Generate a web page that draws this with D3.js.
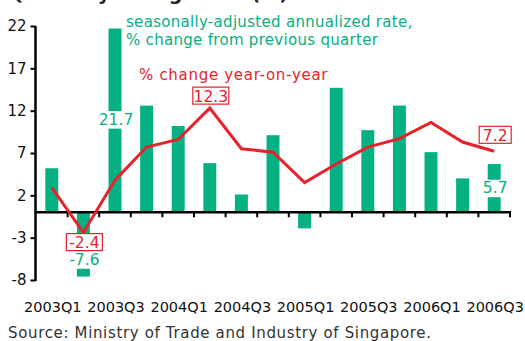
<!DOCTYPE html>
<html>
<head>
<meta charset="utf-8">
<script src="https://cdn.jsdelivr.net/npm/d3@7"></script>
<style>
  html, body { margin: 0; padding: 0; background: #fff; }
  svg { display: block; font-family: "DejaVu Sans", Verdana, sans-serif; }
</style>
</head>
<body>
<svg id="chart" width="525" height="341"></svg>
<script>
// Singapore GDP growth by quarter
const quarters = ["2003Q1","2003Q2","2003Q3","2003Q4","2004Q1","2004Q2","2004Q3","2004Q4",
                  "2005Q1","2005Q2","2005Q3","2005Q4","2006Q1","2006Q2","2006Q3"];
// seasonally-adjusted annualized rate, % change from previous quarter
const qoqSaar = [5.2, -7.6, 21.7, 12.6, 10.2, 5.8, 2.1, 9.1, -1.9, 14.7, 9.7, 12.6, 7.1, 4.0, 5.7];
// % change year-on-year
const yoy = [2.9, -2.4, 3.8, 7.7, 8.6, 12.3, 7.5, 7.1, 3.5, 5.7, 7.7, 8.7, 10.6, 8.3, 7.2];
const yTicks = [-8, -3, 2, 7, 12, 17, 22];
const xTickLabels = ["2003Q1","2003Q3","2004Q1","2004Q3","2005Q1","2005Q3","2006Q1","2006Q3"];

// value labels: green labels sit on a white patch over the bar at the given level
const barLabels = [
  { q: "2003Q2", at: -5.55 },
  { q: "2003Q3", at: 11.0 },
  { q: "2006Q3", at: 2.9 }
];
// boxed labels on the year-on-year line ("above" or "below" the point)
const lineLabels = [
  { q: "2003Q2", side: "below", gap: 1 },
  { q: "2004Q2", side: "above", gap: 4 },
  { q: "2006Q3", side: "above", gap: 8 }
];

const green = "#05b083";
const red = "#e8212b";
const svg = d3.select("#chart");

// plain hyphen for negatives
const fmt1 = v => d3.format(".1f")(v).replace("\u2212", "-");
const fmt0 = v => d3.format("d")(v).replace("\u2212", "-");

const x = d3.scaleBand().domain(quarters).range([36, 510]).paddingInner(0.59).paddingOuter(0.295);
const xTick = d3.scaleBand().domain(quarters).range([36, 510]);
const y = d3.scaleLinear().domain([-8, 22]).range([280, 26]);

// title, running off the top edge
svg.append("text")
  .attr("x", 8).attr("y", 0)
  .attr("font-size", 19).attr("font-weight", "bold").attr("fill", "#222")
  .text("Quarterly GDP growth (%)");

// bars
svg.append("g").selectAll("rect").data(quarters).join("rect")
  .attr("x", d => x(d))
  .attr("width", x.bandwidth())
  .attr("y", (d, i) => y(Math.max(0, qoqSaar[i])))
  .attr("height", (d, i) => Math.abs(y(qoqSaar[i]) - y(0)))
  .attr("fill", green);

// green value labels with white backing
barLabels.forEach(l => {
  const i = quarters.indexOf(l.q);
  const cx = x(l.q) + x.bandwidth() / 2 + 1;
  const cy = y(l.at);
  svg.append("rect")
    .attr("x", cx - 19).attr("y", cy - 8)
    .attr("width", 38).attr("height", 17.5)
    .attr("fill", "#fff");
  svg.append("text")
    .attr("x", cx).attr("y", cy + 5.5)
    .attr("text-anchor", "middle")
    .attr("font-size", 15.5).attr("fill", green)
    .text(fmt1(qoqSaar[i]));
});

// y axis
const yAxis = d3.axisLeft(y).tickValues(yTicks).tickSize(5).tickPadding(4).tickFormat(fmt0);
const gy = svg.append("g").attr("transform", "translate(35.5,0)").call(yAxis);
gy.select(".domain").attr("stroke", "#000").attr("stroke-width", 2.5).attr("d", `M0,${y(22)}V${y(-8) + 1}`);
gy.selectAll(".tick line").attr("stroke", "#000").attr("stroke-width", 2);
gy.selectAll(".tick text").attr("font-size", 15).attr("fill", "#111").attr("font-family", "DejaVu Sans, Verdana, sans-serif");

// x axis at zero with boundary ticks
const gx = svg.append("g");
gx.append("line")
  .attr("x1", 35).attr("x2", 511)
  .attr("y1", y(0)).attr("y2", y(0))
  .attr("stroke", "#000").attr("stroke-width", 2.5);
gx.selectAll("line.tk").data(quarters).join("line").attr("class", "tk")
  .attr("x1", d => xTick(d) + xTick.bandwidth()).attr("x2", d => xTick(d) + xTick.bandwidth())
  .attr("y1", y(0)).attr("y2", y(0) + 5)
  .attr("stroke", "#000").attr("stroke-width", 2);

// category labels
svg.append("g").selectAll("text").data(xTickLabels).join("text")
  .attr("x", d => x(d) + x.bandwidth() / 2 + 1)
  .attr("y", 312)
  .attr("text-anchor", "middle")
  .attr("font-size", 14.5).attr("fill", "#111")
  .text(d => d);

// year-on-year line
const line = d3.line()
  .x((d, i) => x(quarters[i]) + x.bandwidth() / 2)
  .y(d => y(d));
svg.append("path").datum(yoy)
  .attr("d", line)
  .attr("fill", "none").attr("stroke", red).attr("stroke-width", 3)
  .attr("stroke-linejoin", "miter");

// boxed labels on the line
lineLabels.forEach(l => {
  const i = quarters.indexOf(l.q);
  const cx = x(l.q) + x.bandwidth() / 2 + 1;
  const py = y(yoy[i]);
  const txt = fmt1(yoy[i]);
  const w = txt.length > 3 ? 36 : 32, h = 17;
  const top = l.side === "above" ? py - l.gap - h : py + l.gap;
  svg.append("rect")
    .attr("x", cx - w / 2).attr("y", top)
    .attr("width", w).attr("height", h)
    .attr("fill", "#fff").attr("stroke", red).attr("stroke-width", 1.2);
  svg.append("text")
    .attr("x", cx).attr("y", top + h - 2.5)
    .attr("text-anchor", "middle")
    .attr("font-size", 15.5).attr("fill", red)
    .text(txt);
});

// series captions
const cap = svg.append("text").attr("font-size", 15).attr("fill", green).attr("letter-spacing", 0.3);
cap.append("tspan").attr("x", 126).attr("y", 27).text("seasonally-adjusted annualized rate,");
cap.append("tspan").attr("x", 126).attr("y", 45).text("% change from previous quarter");
svg.append("text")
  .attr("x", 139).attr("y", 80)
  .attr("font-size", 15).attr("fill", red).attr("letter-spacing", 0.7)
  .text("% change year-on-year");

// source note
svg.append("text")
  .attr("x", 8).attr("y", 338)
  .attr("font-size", 15).attr("fill", "#333").attr("letter-spacing", 0.65)
  .text("Source: Ministry of Trade and Industry of Singapore.");
</script>
</body>
</html>
